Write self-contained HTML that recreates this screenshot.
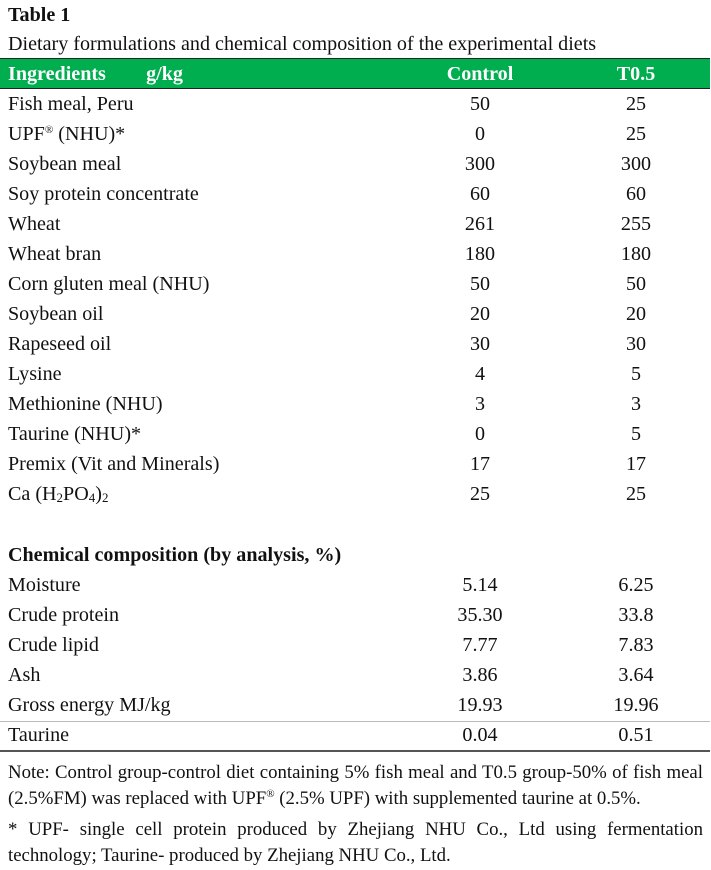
<!DOCTYPE html>
<html><head><meta charset="utf-8"><style>
body{margin:0;width:711px;height:870px;background:#fff;position:relative;font-family:"Liberation Serif",serif;font-size:20.1px;color:#111;overflow:hidden}
.t{position:absolute;white-space:nowrap;line-height:22px}
.c1{position:absolute;width:140px;text-align:center;left:410px;line-height:22px}
.c2{position:absolute;width:140px;text-align:center;left:566px;line-height:22px}
.b{font-weight:bold}
.g{position:absolute;left:0;top:58px;width:710px;height:31px;background:#00ad4f;border-top:1.5px solid #222;border-bottom:1.5px solid #222;box-sizing:border-box}
.w{color:#fff;font-weight:bold}
.ln{position:absolute;left:0;width:710px;background:#555}
.nl{position:absolute;left:8px;width:695px;white-space:nowrap;line-height:22px;font-size:18.8px}
.j{text-align:justify;text-align-last:justify;white-space:normal;height:22px;overflow:hidden}
sup{font-size:11px;line-height:0;vertical-align:7px}
sub{font-size:13px;line-height:0;vertical-align:-2px}
</style></head><body>
<div class="t b" style="left:8px;top:4px">Table 1</div>
<div class="t" style="left:8px;top:33px">Dietary formulations and chemical composition of the experimental diets</div>
<div class="g"></div>
<div class="t w" style="left:8px;top:63px">Ingredients&nbsp;&nbsp;&nbsp;&nbsp;&nbsp;&nbsp;&nbsp;&nbsp;g/kg</div>
<div class="c1 w" style="top:63px">Control</div>
<div class="c2 w" style="top:63px">T0.5</div>

<div class="t" style="left:8px;top:93px">Fish meal, Peru</div><div class="c1" style="top:93px">50</div><div class="c2" style="top:93px">25</div>
<div class="t" style="left:8px;top:123px">UPF<sup>®</sup> (NHU)*</div><div class="c1" style="top:123px">0</div><div class="c2" style="top:123px">25</div>
<div class="t" style="left:8px;top:153px">Soybean meal</div><div class="c1" style="top:153px">300</div><div class="c2" style="top:153px">300</div>
<div class="t" style="left:8px;top:183px">Soy protein concentrate</div><div class="c1" style="top:183px">60</div><div class="c2" style="top:183px">60</div>
<div class="t" style="left:8px;top:213px">Wheat</div><div class="c1" style="top:213px">261</div><div class="c2" style="top:213px">255</div>
<div class="t" style="left:8px;top:243px">Wheat bran</div><div class="c1" style="top:243px">180</div><div class="c2" style="top:243px">180</div>
<div class="t" style="left:8px;top:273px">Corn gluten meal (NHU)</div><div class="c1" style="top:273px">50</div><div class="c2" style="top:273px">50</div>
<div class="t" style="left:8px;top:303px">Soybean oil</div><div class="c1" style="top:303px">20</div><div class="c2" style="top:303px">20</div>
<div class="t" style="left:8px;top:333px">Rapeseed oil</div><div class="c1" style="top:333px">30</div><div class="c2" style="top:333px">30</div>
<div class="t" style="left:8px;top:363px">Lysine</div><div class="c1" style="top:363px">4</div><div class="c2" style="top:363px">5</div>
<div class="t" style="left:8px;top:393px">Methionine (NHU)</div><div class="c1" style="top:393px">3</div><div class="c2" style="top:393px">3</div>
<div class="t" style="left:8px;top:423px">Taurine (NHU)*</div><div class="c1" style="top:423px">0</div><div class="c2" style="top:423px">5</div>
<div class="t" style="left:8px;top:453px">Premix (Vit and Minerals)</div><div class="c1" style="top:453px">17</div><div class="c2" style="top:453px">17</div>
<div class="t" style="left:8px;top:483px">Ca (H<sub>2</sub>PO<sub>4</sub>)<sub>2</sub></div><div class="c1" style="top:483px">25</div><div class="c2" style="top:483px">25</div>

<div class="t b" style="left:8px;top:544px">Chemical composition (by analysis, %)</div>
<div class="t" style="left:8px;top:574px">Moisture</div><div class="c1" style="top:574px">5.14</div><div class="c2" style="top:574px">6.25</div>
<div class="t" style="left:8px;top:604px">Crude protein</div><div class="c1" style="top:604px">35.30</div><div class="c2" style="top:604px">33.8</div>
<div class="t" style="left:8px;top:634px">Crude lipid</div><div class="c1" style="top:634px">7.77</div><div class="c2" style="top:634px">7.83</div>
<div class="t" style="left:8px;top:664px">Ash</div><div class="c1" style="top:664px">3.86</div><div class="c2" style="top:664px">3.64</div>
<div class="t" style="left:8px;top:694px">Gross energy MJ/kg</div><div class="c1" style="top:694px">19.93</div><div class="c2" style="top:694px">19.96</div>
<div class="ln" style="top:721px;height:1px;background:#bbb"></div>
<div class="t" style="left:8px;top:724px">Taurine</div><div class="c1" style="top:724px">0.04</div><div class="c2" style="top:724px">0.51</div>
<div class="ln" style="top:750px;height:1.5px"></div>

<div class="nl j" style="top:762px">Note: Control group-control diet containing 5% fish meal and T0.5 group-50% of fish meal</div>
<div class="nl" style="top:788px">(2.5%FM) was replaced with UPF<sup>®</sup> (2.5% UPF) with supplemented taurine at 0.5%.</div>
<div class="nl j" style="top:819px">* UPF- single cell protein produced by Zhejiang NHU Co., Ltd using fermentation</div>
<div class="nl" style="top:845px">technology; Taurine- produced by Zhejiang NHU Co., Ltd.</div>
</body></html>
